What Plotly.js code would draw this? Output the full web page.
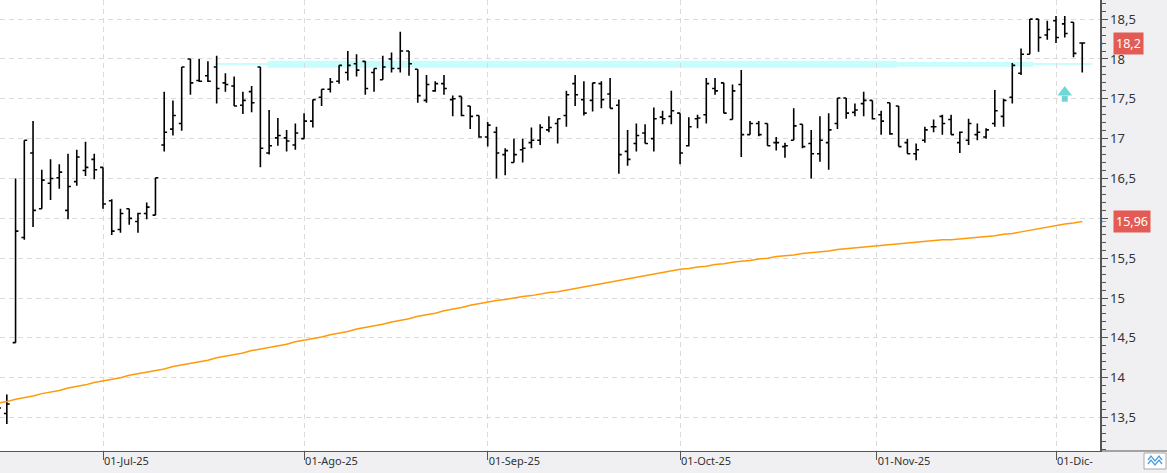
<!DOCTYPE html>
<html>
<head>
<meta charset="utf-8">
<script src="https://cdn.plot.ly/plotly-3.0.1.min.js"></script>
<style>html,body{margin:0;padding:0;background:#f0f0f2;}#chart{width:1167px;height:473px;}</style>
</head>
<body>
<div id="chart"></div>
<script>
// ---- Data (trading days 13-Jun-2025 .. 04-Dec-2025) ----
const firstDay = '2025-06-13';
const lastDay = '2025-12-04';

const open = [13.66,13.55,14.44,15.76,16.82,16.12,16.44,16.51,16.10,16.46,16.60,16.74,
16.64,16.22,15.86,16.12,15.96,16.06,16.04,16.92,17.12,17.19,18.00,17.73,17.79,17.90,17.70,17.66,17.42,17.59,17.90,16.82,17.01,17.01,16.92,
17.00,17.22,17.52,17.62,17.72,17.83,17.94,17.97,17.83,17.74,18.00,17.88,18.10,17.87,17.48,17.60,17.69,17.49,17.53,17.41,17.29,
17.02,17.08,16.80,16.70,16.86,16.95,16.98,17.11,17.19,17.29,17.69,17.49,17.48,17.69,17.56,17.42,16.84,16.94,17.07,17.00,17.27,17.28,
17.32,16.91,17.25,17.30,17.63,17.70,17.24,17.68,17.05,17.19,17.19,16.95,16.90,16.98,17.18,16.94,16.81,16.95,17.19,17.51,17.33,17.44,17.48,
17.30,17.45,17.41,16.95,16.81,16.98,17.15,17.28,17.24,16.95,16.98,17.05,17.02,17.19,17.28,17.52,17.82,18.06,18.50,18.30,
18.48,18.44,18.46,18.20];
const high = [13.74,13.79,16.50,16.98,17.22,16.61,16.74,16.68,16.81,16.86,16.96,16.81,
16.64,16.24,16.12,16.12,16.07,16.20,16.51,17.59,17.48,17.90,18.00,18.00,17.97,18.04,17.82,17.78,17.59,17.66,17.90,17.36,17.26,17.11,17.19,
17.32,17.49,17.62,17.76,17.92,18.10,18.06,17.97,17.88,18.04,18.08,18.34,18.10,17.87,17.80,17.72,17.80,17.54,17.53,17.41,17.29,
17.21,17.15,16.88,17.00,17.00,17.14,17.18,17.28,17.25,17.60,17.80,17.72,17.70,17.72,17.76,17.49,17.11,17.19,17.18,17.39,17.35,17.60,
17.32,17.27,17.30,17.76,17.76,17.70,17.68,17.86,17.22,17.22,17.19,17.02,16.95,17.38,17.18,17.11,17.28,17.32,17.51,17.51,17.44,17.59,17.48,
17.35,17.45,17.41,17.00,16.94,17.15,17.24,17.30,17.30,17.09,17.25,17.19,17.13,17.61,17.50,17.95,18.13,18.50,18.50,18.48,
18.54,18.54,18.46,18.20];
const low = [13.57,13.42,14.44,15.73,15.89,16.12,16.23,16.37,15.99,16.41,16.53,16.49,
16.12,15.79,15.82,15.92,15.82,15.99,16.04,16.84,17.04,17.10,17.55,17.71,17.71,17.44,17.59,17.41,17.31,17.33,16.64,16.80,16.91,16.84,16.86,
17.00,17.14,17.41,17.58,17.69,17.73,17.78,17.55,17.59,17.74,17.83,17.83,17.79,17.45,17.45,17.59,17.55,17.28,17.28,17.12,17.01,
16.90,16.50,16.54,16.70,16.70,16.88,16.92,17.08,16.94,17.15,17.41,17.29,17.34,17.38,17.38,16.56,16.66,16.84,16.94,16.84,17.18,17.18,
16.68,16.90,17.13,17.19,17.55,17.32,17.24,16.77,17.05,17.03,16.91,16.85,16.76,16.98,16.88,16.50,16.71,16.61,17.12,17.25,17.28,17.28,17.24,
17.05,17.05,16.90,16.81,16.73,16.95,17.08,17.05,17.05,16.82,16.92,16.98,17.00,17.15,17.15,17.44,17.80,18.06,18.09,18.24,
18.20,18.27,18.02,17.83];
const close = [13.62,13.67,15.84,16.98,16.10,16.48,16.50,16.58,16.40,16.77,16.64,16.61,
16.18,15.84,16.06,16.00,16.06,16.14,16.51,17.08,17.29,17.90,17.70,17.72,17.72,17.63,17.68,17.41,17.48,17.45,16.88,16.91,17.04,16.97,17.07,
17.22,17.49,17.62,17.71,17.92,17.92,17.86,17.63,17.88,17.90,17.88,18.10,17.94,17.54,17.68,17.69,17.63,17.50,17.29,17.28,17.02,
17.17,16.82,16.85,16.80,16.88,16.98,17.14,17.14,17.25,17.55,17.55,17.32,17.70,17.49,17.38,16.80,16.74,17.04,16.94,17.25,17.25,17.35,
16.82,17.15,17.26,17.69,17.60,17.32,17.60,17.05,17.19,17.05,16.91,16.95,16.91,17.16,16.90,16.81,16.98,17.11,17.51,17.32,17.36,17.48,17.25,
17.22,17.06,16.90,16.81,16.86,17.11,17.15,17.19,17.05,17.08,17.19,17.08,17.11,17.35,17.48,17.92,18.06,18.50,18.27,18.37,
18.27,18.32,18.07,18.20];
// moving average (orange)
const ma = [13.68,13.70,13.73,13.75,13.77,13.80,13.82,13.84,13.87,13.89,13.91,13.94,
13.96,13.98,14.00,14.03,14.05,14.07,14.09,14.11,14.14,14.16,14.18,14.20,14.22,14.25,14.27,14.29,14.31,14.34,14.36,14.38,14.40,14.42,14.45,
14.47,14.49,14.51,14.54,14.56,14.58,14.61,14.63,14.65,14.67,14.70,14.72,14.74,14.77,14.79,14.81,14.84,14.86,14.88,14.91,14.93,
14.95,14.97,14.98,15.00,15.02,15.03,15.05,15.07,15.08,15.10,15.12,15.14,15.16,15.18,15.20,15.22,15.24,15.26,15.28,15.30,15.32,15.34,
15.36,15.37,15.39,15.40,15.42,15.43,15.45,15.46,15.47,15.49,15.50,15.52,15.53,15.54,15.56,15.57,15.58,15.59,15.61,15.62,15.63,15.64,15.65,
15.66,15.67,15.68,15.69,15.70,15.71,15.72,15.73,15.73,15.74,15.75,15.76,15.77,15.78,15.80,15.81,15.83,15.85,15.87,15.89,
15.91,15.93,15.94,15.96];

const monthTickDates = ['2025-07-01','2025-08-01','2025-09-01','2025-10-01','2025-11-01','2025-12-01'];
const monthTickText = ['01-Jul-25','01-Ago-25','01-Sep-25','01-Oct-25','01-Nov-25','01-Dic-'];
const yTicks = [13.5,14,14.5,15,15.5,16,16.5,17,17.5,18,18.5];

const supportLevel = 17.935;
const signalDate = '2025-12-02';
const signalLevel = 17.58;

// ---- trading-day calendar ----
function tradingDays(a, b) {
  const out = [];
  const d = new Date(a + 'T00:00:00Z');
  const e = new Date(b + 'T00:00:00Z');
  while (d <= e) {
    const wd = d.getUTCDay();
    if (wd !== 0 && wd !== 6) out.push(d.toISOString().slice(0, 10));
    d.setUTCDate(d.getUTCDate() + 1);
  }
  return out;
}
const dates = tradingDays(firstDay, lastDay);
const xi = dates.map((_, i) => i);
function posOf(dateStr) {
  const i = dates.findIndex(d => d >= dateStr);
  return dates[i] === dateStr ? i : i - 0.5;
}
const tickPos = monthTickDates.map(posOf);
const fmt = v => String(+v.toFixed(2)).replace('.', ',');

const lastClose = close[close.length - 1];
const lastMa = ma[ma.length - 1];
// tick labels hidden where a price label box covers them (as in the original)
const yTickText = yTicks.map(v => (Math.abs(v - lastMa) < 0.12 || Math.abs(v - lastClose) < 0.12) ? '' : fmt(v));

// ---- plot geometry helpers (paper coords for decorations outside the plot) ----
const PW = 1100, PH = 451;
const px = x => x / PW;
const py = y => (PH - y) / PH;

const traces = [
  {
    type: 'scatter', mode: 'lines', x: xi, y: ma,
    line: {color: '#ff9a0a', width: 1.5}, hoverinfo: 'skip', showlegend: false
  },
  {
    type: 'ohlc', x: xi, open: open, high: high, low: low, close: close,
    increasing: {line: {color: '#000000', width: 1.6}},
    decreasing: {line: {color: '#000000', width: 1.6}},
    tickwidth: 0.33, hoverinfo: 'skip', showlegend: false
  },
  {
    type: 'scatter', mode: 'markers',
    x: [posOf(signalDate), posOf(signalDate)], y: [signalLevel, signalLevel - 0.08],
    marker: {symbol: ['triangle-up', 'square'], size: [12.7, 6], color: '#33c6c6', line: {width: 0}},
    hoverinfo: 'skip', showlegend: false
  }
];

const bandColor = '#c8fdfd';
const shapes = [
  {type: 'rect', xref: 'x', yref: 'y', x0: 24.8, x1: 125.1, y0: supportLevel - 0.012, y1: supportLevel + 0.013, fillcolor: bandColor, line: {width: 0}, layer: 'below'},
  {type: 'rect', xref: 'x', yref: 'y', x0: 30.8, x1: 102.8, y0: supportLevel - 0.044, y1: supportLevel + 0.044, fillcolor: bandColor, line: {width: 0}, layer: 'below'},
  {type: 'rect', xref: 'x', yref: 'y', x0: 102.8, x1: 118.4, y0: supportLevel - 0.034, y1: supportLevel + 0.028, fillcolor: bandColor, line: {width: 0}, layer: 'below'},
  // x-axis line continued under the price panel
  {type: 'line', xref: 'paper', yref: 'paper', x0: 1, x1: px(1167), y0: 0, y1: 0, line: {color: '#555555', width: 1}},
  // small chart-type icon bottom right
  {type: 'rect', xref: 'paper', yref: 'paper', x0: px(1144), x1: px(1166), y0: py(469), y1: py(453), fillcolor: '#ffffff', line: {color: '#a8a8a8', width: 1}},
  {type: 'path', xref: 'paper', yref: 'paper',
   path: 'M' + px(1148) + ',' + py(460) + ' L' + px(1151) + ',' + py(456) + ' L' + px(1155) + ',' + py(461) + ' L' + px(1159) + ',' + py(456) + ' L' + px(1162) + ',' + py(460),
   line: {color: '#4a9fe0', width: 1.3}},
  {type: 'path', xref: 'paper', yref: 'paper',
   path: 'M' + px(1148) + ',' + py(464) + ' L' + px(1151) + ',' + py(460) + ' L' + px(1155) + ',' + py(465) + ' L' + px(1159) + ',' + py(460) + ' L' + px(1162) + ',' + py(464),
   line: {color: '#4a9fe0', width: 1.3}}
];

const labelFont = {family: 'Noto Sans, Open Sans, sans-serif', size: 12.5, color: '#ffffff'};
const arrowFont = {family: 'DejaVu Sans', size: 8, color: '#555555'};
const annotations = [
  {xref: 'paper', yref: 'y', x: 1, y: lastClose, xanchor: 'left', xshift: 13, text: fmt(lastClose),
   showarrow: false, bgcolor: '#e35b55', font: labelFont, borderpad: 2},
  {xref: 'paper', yref: 'y', x: 1, y: lastMa, xanchor: 'left', xshift: 13, text: fmt(lastMa),
   showarrow: false, bgcolor: '#e35b55', font: labelFont, borderpad: 2},
  {xref: 'paper', yref: 'y', x: 1, y: lastClose, xanchor: 'left', xshift: -1, text: '←',
   showarrow: false, font: arrowFont, borderpad: 0},
  {xref: 'paper', yref: 'y', x: 1, y: lastMa, xanchor: 'left', xshift: -1, text: '←',
   showarrow: false, font: arrowFont, borderpad: 0}
];

const layout = {
  width: 1167, height: 473,
  margin: {l: 0, r: 67, t: 0, b: 22, pad: 0},
  paper_bgcolor: '#f0f0f2', plot_bgcolor: '#ffffff',
  separators: ',.',
  showlegend: false,
  hovermode: false,
  font: {family: 'Noto Sans, Open Sans, sans-serif', color: '#333333'},
  xaxis: {
    type: 'linear', range: [0.22, 126.03], fixedrange: true,
    rangeslider: {visible: false},
    tickmode: 'array', tickvals: tickPos, ticktext: monthTickText,
    ticks: 'outside', ticklen: 8, tickcolor: '#555555', tickwidth: 1,
    ticklabelposition: 'outside right',
    tickfont: {size: 11, color: '#333333'},
    showgrid: true, gridcolor: '#dadada', griddash: '5px,4px', gridwidth: 1,
    showline: true, linecolor: '#555555', linewidth: 1, zeroline: false
  },
  yaxis: {
    side: 'right', range: [13.08, 18.74], fixedrange: true,
    tickmode: 'array', tickvals: yTicks, ticktext: yTickText,
    ticks: 'outside', ticklen: 6, tickcolor: '#555555', tickwidth: 1,
    tickfont: {size: 13, color: '#333333'},
    minor: {dtick: 0.1, tick0: 0, ticks: 'outside', ticklen: 4, tickcolor: '#555555', showgrid: false},
    showgrid: true, gridcolor: '#dadada', griddash: '5px,4px', gridwidth: 1,
    showline: true, linecolor: '#555555', linewidth: 1.5, zeroline: false
  },
  shapes: shapes,
  annotations: annotations
};

Plotly.newPlot('chart', traces, layout, {displayModeBar: false, staticPlot: true});
</script>
</body>
</html>
